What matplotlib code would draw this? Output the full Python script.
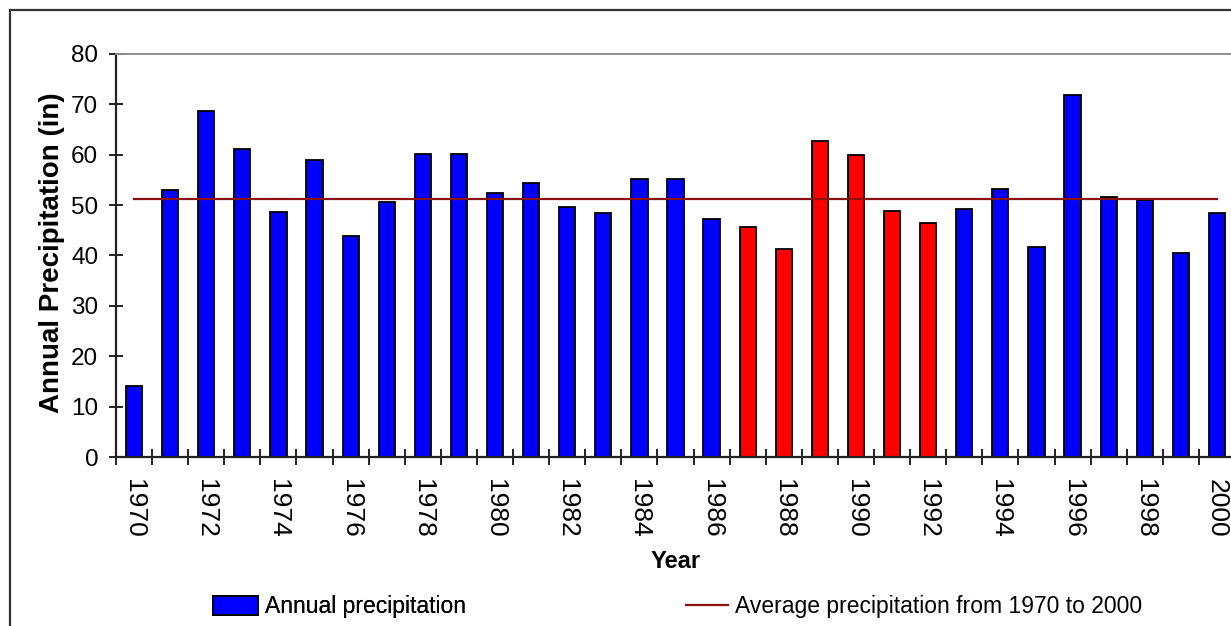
import matplotlib
matplotlib.use("Agg")
import matplotlib.pyplot as plt
from matplotlib.patches import Rectangle, Patch
from matplotlib.lines import Line2D

plt.rcParams['font.family'] = ['Liberation Sans', 'DejaVu Sans']

# Annual precipitation (inches), 1970-2000
years = list(range(1970, 2001))
precip = [14.0, 53.0, 68.7, 61.1, 48.6, 58.9, 43.8, 50.6, 60.1, 60.1,
          52.4, 54.4, 49.6, 48.5, 55.1, 55.1, 47.2, 45.6, 41.3, 62.7,
          59.9, 48.8, 46.4, 49.2, 53.2, 41.7, 71.8, 51.6, 51.0, 40.5,
          48.5]
highlight_years = [1987, 1988, 1989, 1990, 1991, 1992]
average_precip = 51.2

bar_label = "Annual precipitation"
avg_label = "Average precipitation from 1970 to 2000"
tick_years = years[::2]

W, H = 1231, 626
fig = plt.figure(figsize=(W / 100, H / 100), dpi=100)
fig.patch.set_facecolor("white")

# plot area (extends slightly past the right edge of the canvas)
left, right, top, bottom = 116, 1235, 54, 457
ax = fig.add_axes([left / W, 1 - bottom / H, (right - left) / W, (bottom - top) / H])
ax.set_facecolor("white")

x = list(range(len(years)))
colors = ["#ff0000" if y in highlight_years else "#0000ff" for y in years]
ax.bar(x, precip, width=0.45, color=colors, edgecolor="black", linewidth=1.3, zorder=2)
ax.plot([x[0], x[-1]], [average_precip, average_precip], color="#8b1010", linewidth=1.6, zorder=3)

ax.set_xlim(-0.5, len(years) - 0.5)
ax.set_ylim(0, 80)
ax.set_yticks(range(0, 81, 10))

# ticks on category boundaries, labels every second year
ax.set_xticks([i - 0.5 for i in range(len(years))], minor=False)
ax.set_xticklabels([])
ax.set_xticks([years.index(y) for y in tick_years], minor=True)
ax.set_xticklabels([str(y) for y in tick_years], minor=True, rotation=270,
                   fontsize=19, va="top", ha="center")
ax.tick_params(axis="x", which="major", direction="inout", length=12, width=1.4, color="#222222")
ax.tick_params(axis="x", which="minor", length=0, pad=16)
ax.tick_params(axis="y", direction="inout", length=9.5, width=1.4, color="#222222",
               labelsize=17.5, pad=8)

ax.spines["right"].set_visible(False)
ax.spines["top"].set_color("#8c8c8c")
ax.spines["top"].set_linewidth(1.4)
ax.spines["left"].set_color("#222222")
ax.spines["left"].set_linewidth(1.6)
ax.spines["bottom"].set_color("#222222")
ax.spines["bottom"].set_linewidth(1.6)

ax.set_ylabel("Annual Precipitation (in)", fontsize=20, fontweight="bold")
ax.yaxis.set_label_coords((52 - left) / (right - left), (bottom - 253) / (bottom - top))
ax.yaxis.label.set_va("center")
ax.set_xlabel("Year", fontsize=17, fontweight="bold")
ax.xaxis.set_label_coords(0.5, (bottom - 562) / (bottom - top))
ax.xaxis.label.set_va("center")

# legends
leg1 = fig.legend(handles=[Patch(facecolor="#0000ff", edgecolor="black", linewidth=1.3)],
                  labels=[bar_label], loc="center left",
                  bbox_to_anchor=(213 / W, 1 - 607 / H), frameon=False, fontsize=16.5,
                  borderpad=0, borderaxespad=0, handlelength=1.95, handleheight=0.85,
                  handletextpad=0.3)
leg2 = fig.legend(handles=[Line2D([0], [0], color="#8b1010", linewidth=1.6)],
                  labels=[avg_label], loc="center left",
                  bbox_to_anchor=(686 / W, 1 - 607 / H), frameon=False, fontsize=16.5,
                  borderpad=0, borderaxespad=0, handlelength=1.85, handletextpad=0.3)
fig.add_artist(leg1)

# chart border
fig.add_artist(Rectangle((10 / W, -0.1), 1.2, 1.1 - 10 / H, transform=fig.transFigure,
                         fill=False, edgecolor="#333333", linewidth=1.6))

fig.savefig("out.png", dpi=100)
